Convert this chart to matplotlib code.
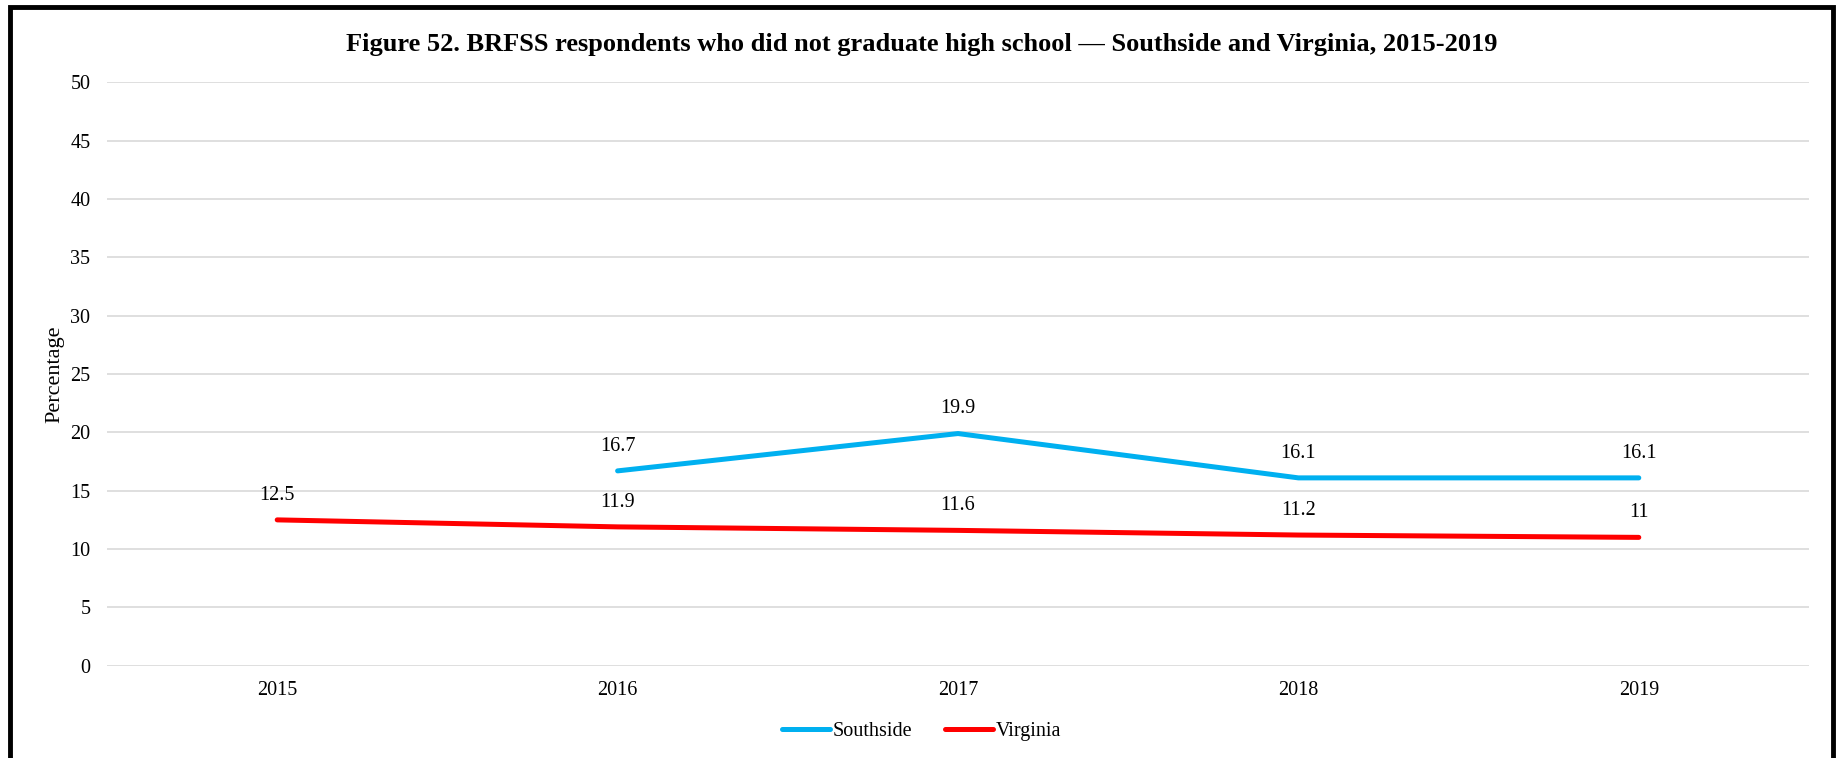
import matplotlib
matplotlib.use("Agg")
import matplotlib.pyplot as plt
from matplotlib.patches import Rectangle
from matplotlib.lines import Line2D

plt.rcParams["font.family"] = ["Liberation Serif", "DejaVu Serif"]

years = ["2015", "2016", "2017", "2018", "2019"]
southside = [None, 16.7, 19.9, 16.1, 16.1]
virginia = [12.5, 11.9, 11.6, 11.2, 11.0]
virginia_labels = ["12.5", "11.9", "11.6", "11.2", "11"]
southside_labels = ["", "16.7", "19.9", "16.1", "16.1"]

SOUTH_COLOR = "#00B0F0"
VA_COLOR = "#FF0000"

W, H = 1843, 758
fig = plt.figure(figsize=(W / 100, H / 100), dpi=100)
ax = fig.add_axes([107 / W, 1 - 665.7 / H, (1809 - 107) / W, (665.7 - 82.4) / H])

x = list(range(len(years)))
sx = [i for i, v in zip(x, southside) if v is not None]
sy = [v for v in southside if v is not None]

ax.plot(sx, sy, color=SOUTH_COLOR, lw=3.6, solid_capstyle="round", zorder=3)
ax.plot(x, virginia, color=VA_COLOR, lw=3.6, solid_capstyle="round", zorder=3)

for i, v in zip(sx, sy):
    ax.annotate(southside_labels[i], (i, v), xytext=(0, 11), textcoords="offset points",
                ha="center", va="bottom", fontsize=14.5)
for i, v in enumerate(virginia):
    ax.annotate(virginia_labels[i], (i, v), xytext=(0, 11), textcoords="offset points",
                ha="center", va="bottom", fontsize=14.5)

ax.set_xlim(-0.5, 4.5)
ax.set_ylim(0, 50)
ax.set_yticks(range(0, 51, 5))
ax.set_xticks(x)
ax.set_xticklabels(years)
ax.tick_params(axis="both", length=0, labelsize=14.5)
ax.tick_params(axis="x", pad=11)
ax.tick_params(axis="y", pad=12)
ax.grid(axis="y", color="#D9D9D9", lw=1.2)
ax.set_axisbelow(True)
for s in ax.spines.values():
    s.set_visible(False)

ax.set_ylabel("Percentage", fontsize=16, labelpad=4)

fig.text(0.5, 1 - 44 / H, "Figure 52. BRFSS respondents who did not graduate high school \u2014 Southside and Virginia, 2015-2019",
         ha="center", va="center", fontsize=19, fontweight="bold")

handles = [Line2D([], [], color=SOUTH_COLOR, lw=3.6, solid_capstyle="round"),
           Line2D([], [], color=VA_COLOR, lw=3.6, solid_capstyle="round")]
fig.legend(handles, ["Southside", "Virginia"], loc="center", bbox_to_anchor=(0.5, 1 - 731 / H),
           ncol=2, frameon=False, fontsize=14.5, handlelength=2.4, handletextpad=0.15, columnspacing=1.6)

fig.patches.append(Rectangle((10 / W, -0.05), (1833 - 10) / W, 1 - 7 / H + 0.05, transform=fig.transFigure,
                             fill=False, edgecolor="black", lw=3.5, clip_on=False))

fig.savefig("out.png", dpi=100)
